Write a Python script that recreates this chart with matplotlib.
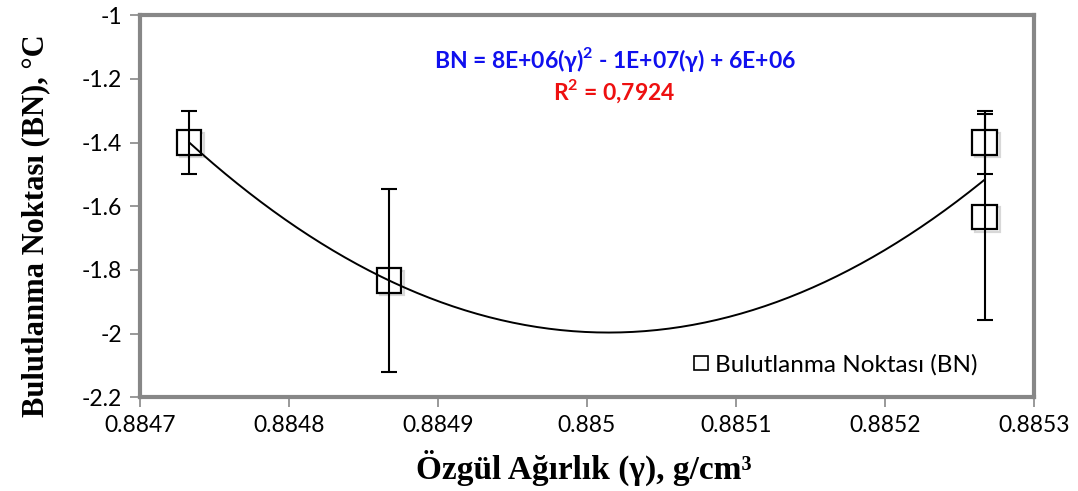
import numpy as np
import matplotlib
matplotlib.use("Agg")
import matplotlib.pyplot as plt
import matplotlib.patheffects as pe

# veri
ozgul_agirlik = [0.884733, 0.884867, 0.885267, 0.885267]
bn = [-1.4, -1.833, -1.4, -1.633]
bn_hata = [0.1, 0.288, 0.1, 0.323]

x_ticks = [0.8847, 0.8848, 0.8849, 0.8850, 0.8851, 0.8852, 0.8853]
x_labels = ["0.8847", "0.8848", "0.8849", "0.885", "0.8851", "0.8852", "0.8853"]
y_ticks = [-2.2, -2.0, -1.8, -1.6, -1.4, -1.2, -1.0]
y_labels = ["-2.2", "-2", "-1.8", "-1.6", "-1.4", "-1.2", "-1"]

sans = "Lato"
serif = "Liberation Serif"
gri = "#878787"

plt.rcParams["mathtext.fontset"] = "custom"
plt.rcParams["mathtext.bf"] = "Lato:bold"
plt.rcParams["mathtext.rm"] = "Lato"

fig = plt.figure(figsize=(10.78, 4.91), dpi=100)
ax = fig.add_axes([0.130, 0.191, 0.829, 0.778])

x = np.array(ozgul_agirlik)
y = np.array(bn)

# polinom trend (2. derece)
x0 = x.mean()
coef = np.polyfit(x - x0, y, 2)
xs = np.linspace(x.min(), x.max(), 200)
ax.plot(xs, np.polyval(coef, xs - x0), color="black", linewidth=1.4, zorder=3)

ax.plot(x, y, linestyle="none", marker="s", markersize=17.5, markerfacecolor="white",
        markeredgecolor="black", markeredgewidth=1.6, zorder=2,
        path_effects=[pe.SimpleLineShadow(offset=(2, -2), alpha=0.3, shadow_color="gray"), pe.Normal()])
ax.errorbar(x, y, yerr=bn_hata, fmt="none", ecolor="black", elinewidth=1.5,
            capsize=6, capthick=1.5, zorder=4)

# legend
ax.plot([], [], linestyle="none", marker="s", markersize=10.5, markerfacecolor="white",
        markeredgecolor="black", markeredgewidth=1.2, label="Bulutlanma Noktası (BN)")
ax.legend(loc="lower right", bbox_to_anchor=(0.962, 0.0), frameon=False,
          handlelength=0.6, handletextpad=0.3, prop={"family": sans, "size": 17.5})

ax.text(0.531, 0.885, "BN = 8E+06(γ)$^\\mathbf{2}$ - 1E+07(γ) + 6E+06", transform=ax.transAxes,
        ha="center", va="center", color="#1010ee", fontsize=16.5, fontweight="bold", family=sans)
ax.text(0.531, 0.80, "R$^\\mathbf{2}$ = 0,7924", transform=ax.transAxes,
        ha="center", va="center", color="#ee1010", fontsize=16.5, fontweight="bold", family=sans)

ax.set_xlim(0.8847, 0.8853)
ax.set_ylim(-2.2, -1.0)
ax.set_xticks(x_ticks)
ax.set_xticklabels(x_labels, family=sans, fontsize=16.5)
ax.set_yticks(y_ticks)
ax.set_yticklabels(y_labels, family=sans, fontsize=16.5)
ax.tick_params(direction="out", length=7, width=1.2, color=gri, pad=6)

for s in ax.spines.values():
    s.set_color(gri)
    s.set_linewidth(3)

ax.set_xlabel("Özgül Ağırlık (γ), g/cm³", family=serif, fontweight="bold", fontsize=24)
ax.set_ylabel("Bulutlanma Noktası (BN), °C", family=serif, fontweight="bold", fontsize=22)
ax.xaxis.set_label_coords(0.497, -0.138)
ax.yaxis.set_label_coords(-0.101, 0.45)

fig.savefig("out.png", dpi=100)
